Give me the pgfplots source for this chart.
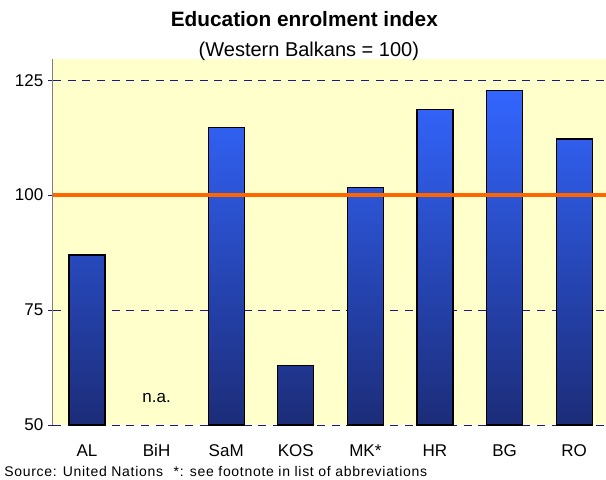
\documentclass[border=0pt]{standalone}
\usepackage{fontspec}
\setmainfont{Liberation Sans}
\usepackage{pgfplots}
\pgfplotsset{compat=1.18}
\definecolor{bgyellow}{HTML}{FFFFCC}
\definecolor{bartop}{HTML}{3366FF}
\definecolor{barbot}{HTML}{1C2C78}
\definecolor{gridnavy}{HTML}{1A1A80}
\definecolor{refline}{HTML}{FF6600}

\begin{document}
\begin{tikzpicture}
\useasboundingbox (-39.75pt,-40.5pt) rectangle (414.75pt,318.75pt);
\begin{axis}[
  at={(0,0)}, anchor=south west,
  width=414.75pt, height=274.5pt, scale only axis,
  xmin=-0.4885, xmax=7.457, ymin=50, ymax=129.6,
  axis lines*=left,
  x axis line style={draw=none},
  y axis line style={draw=gray, line width=0.75pt, -},
  xtick={0,...,7}, xticklabels={AL,BiH,SaM,KOS,MK*,HR,BG,RO},
  xtick style={draw=none},
  x tick label style={anchor=base, yshift=-19.5pt, font=\fontsize{12.75}{14}\selectfont},
  ytick={50,75,100,125}, tick align=outside, major tick length=3.75pt,
  ytick style={gridnavy, line width=0.75pt},
  y tick label style={font=\fontsize{12.75}{14}\selectfont},
  /pgf/number format/assume math mode=true,
  ymajorgrids, grid style={gridnavy, line width=0.75pt, dash pattern=on 6pt off 5pt},
  axis background/.style={fill=bgyellow},
  clip mode=individual,
]
% BiH: n.a.
\addplot[ybar, bar width=27pt, draw=black, line width=1pt, top color=bartop, bottom color=barbot]
  coordinates {(0,87.0) (2,114.7) (3,62.9) (4,101.6) (5,118.6) (6,122.8) (7,112.2)};
\addplot[refline, line width=3pt] coordinates {(-0.4885,100) (7.457,100)};
\node[anchor=base, font=\fontsize{12.75}{14}\selectfont] at (axis cs:1,55) {n.a.};
\end{axis}
\node[anchor=base, font=\bfseries\fontsize{15.6}{18}\selectfont] at (188.5pt,298.5pt) {Education enrolment index};
\node[anchor=base, font=\fontsize{15}{17}\selectfont] at (191.9pt,276pt) {(Western Balkans = 100)};
\node[anchor=base west, inner sep=0pt, font=\fontsize{10.5}{12}\selectfont\addfontfeature{LetterSpace=5}] at (-36.75pt,-38.25pt) {Source: United Nations\hspace{8pt}*: see footnote in list of abbreviations};
\end{tikzpicture}
\end{document}
